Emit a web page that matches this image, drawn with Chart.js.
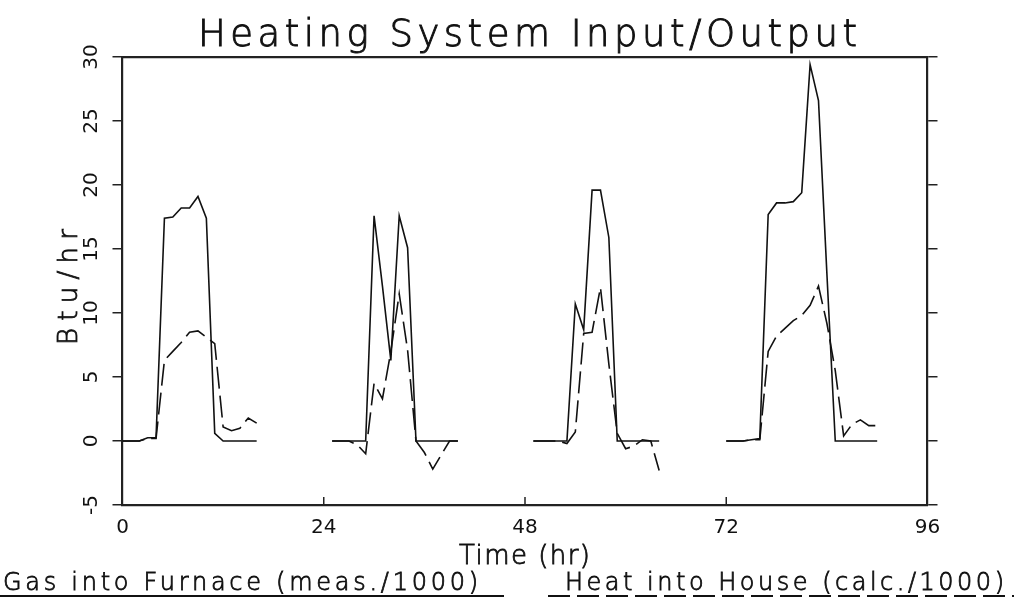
<!DOCTYPE html>
<html>
<head>
<meta charset="utf-8">
<title>Heating System Input/Output</title>
<script src="https://cdn.jsdelivr.net/npm/chart.js@4.4.0/dist/chart.umd.min.js"></script>
<style>
  html, body { margin: 0; padding: 0; background: #fff; }
  #wrap { width: 1019px; height: 603px; position: relative; }
</style>
</head>
<body>
<div id="wrap"><canvas id="heatChart"></canvas></div>
<script>
// hourly samples, four days of logging (null = no record)
const hours = [
  0, 1, 2, 3, 4, 5, 6, 7, 8, 9, 10, 11, 12, 13, 14, 15, 16, 17, 18, 19, 20, 21, 22, 23,
  24, 25, 26, 27, 28, 29, 30, 31, 32, 33, 34, 35, 36, 37, 38, 39, 40, 41, 42, 43, 44, 45, 46, 47,
  48, 49, 50, 51, 52, 53, 54, 55, 56, 57, 58, 59, 60, 61, 62, 63, 64, 65, 66, 67, 68, 69, 70, 71,
  72, 73, 74, 75, 76, 77, 78, 79, 80, 81, 82, 83, 84, 85, 86, 87, 88, 89, 90
];

// Gas into Furnace (meas./1000)
const gasIn = [
  0, 0, 0, 0.25, 0.25, 17.4, 17.5, 18.2, 18.2, 19.1, 17.4, 0.6, 0, 0, 0, 0, 0,
  null, null, null, null, null, null, null, null,
  0, 0, 0, 0, 0, 17.6, 12.1, 6.3, 17.6, 15.1, 0, 0, 0, 0, 0, 0,
  null, null, null, null, null, null, null, null,
  0, 0, 0, 0, 0, 10.7, 8.7, 19.6, 19.6, 15.9, 0, 0, 0, 0, 0, 0,
  null, null, null, null, null, null, null,
  0, 0, 0, 0.1, 0.2, 17.7, 18.6, 18.6, 18.7, 19.4, 29.4, 26.6, 13.1, 0, 0, 0, 0, 0, 0
];

// Heat into House (calc./1000)
const heatOut = [
  0, 0, 0, 0.2, 0.2, 6.3, 7.0, 7.7, 8.5, 8.6, 8.1, 7.6, 1.1, 0.8, 1.0, 1.8, 1.4,
  null, null, null, null, null, null, null, null,
  0, 0, 0, -0.3, -1.0, 4.5, 3.3, 7.0, 11.5, 7.1, 0, -0.9, -2.2, -1.1, 0, 0,
  null, null, null, null, null, null, null, null,
  0, 0, 0, 0, -0.2, 0.7, 8.4, 8.5, 12.0, 6.0, 0.6, -0.6, -0.4, 0.1, 0, -2.3,
  null, null, null, null, null, null, null,
  0, 0, 0, 0.1, 0.1, 7.0, 8.2, 8.8, 9.4, 9.8, 10.6, 12.1, 9.2, 5.5, 0.4, 1.3, 1.65, 1.2, 1.2
];

const xTicks = [0, 24, 48, 72, 96];
const yTicks = [-5, 0, 5, 10, 15, 20, 25, 30];

const chartTitle = 'Heating System Input/Output';
const xTitle = 'Time (hr)';
const yTitle = 'Btu/hr';
const seriesLabels = ['Gas into Furnace (meas./1000)', 'Heat into House (calc./1000)'];

const ink = '#111';
const frameInk = '#222';
const plotFont = '"DejaVu Sans", "Liberation Sans", sans-serif';

// draw text stretched (letter-spaced) to a given width, like the pen plotter lettering
function spacedText(ctx, text, font, left, baseline, width, pen) {
  ctx.font = font;
  ctx.letterSpacing = '0px';
  const w = ctx.measureText(text).width;
  const gap = text.length > 1 ? (width - w) / (text.length - 1) : 0;
  ctx.letterSpacing = gap + 'px';
  ctx.textAlign = 'left';
  ctx.textBaseline = 'alphabetic';
  ctx.fillText(text, left, baseline);
  if (pen) {
    // thicken the thin strokes a little, plotter pens are ~2px
    ctx.lineWidth = pen;
    ctx.strokeStyle = ctx.fillStyle;
    ctx.setLineDash([]);
    ctx.strokeText(text, left, baseline);
  }
  ctx.letterSpacing = '0px';
}

const plotterText = {
  id: 'plotterText',
  afterDraw(chart) {
    const { ctx, chartArea: a, scales } = chart;
    ctx.save();
    ctx.fillStyle = ink;

    // tick marks on the time axis point into the plot
    ctx.strokeStyle = frameInk;
    ctx.lineWidth = 1.5;
    xTicks.slice(1, -1).forEach(v => {
      const px = scales.x.getPixelForValue(v);
      ctx.beginPath();
      ctx.moveTo(px, a.bottom);
      ctx.lineTo(px, a.bottom - 8);
      ctx.stroke();
    });

    // title
    spacedText(ctx, chartTitle, '200 37px ' + plotFont, 198, 46, 659, 0.9);

    // axis titles
    const midX = (a.left + a.right) / 2;
    spacedText(ctx, xTitle, '200 26px ' + plotFont, midX - 66, 564, 131, 0.8);
    ctx.save();
    ctx.translate(77, (a.top + a.bottom) / 2 + 6);
    ctx.rotate(-Math.PI / 2);
    spacedText(ctx, yTitle, '200 26px ' + plotFont, -58, 0, 116, 0.8);
    ctx.restore();

    // legend: label text sitting on its line sample
    const slots = [
      { text: 3, width: 475, from: 0, to: 504 },
      { text: 565, width: 439, from: 548, to: 1014 }
    ];
    chart.data.datasets.forEach((ds, i) => {
      const s = slots[i];
      ctx.fillStyle = ink;
      spacedText(ctx, ds.label, '200 24px ' + plotFont, s.text, 590, s.width, 0.8);
      ctx.beginPath();
      ctx.setLineDash(ds.borderDash || []);
      ctx.strokeStyle = ds.borderColor;
      ctx.lineWidth = 1.8;
      ctx.moveTo(s.from, 596);
      ctx.lineTo(s.to, 596);
      ctx.stroke();
    });
    ctx.setLineDash([]);
    ctx.restore();
  }
};

const ctx = document.getElementById('heatChart').getContext('2d');

new Chart(ctx, {
  type: 'line',
  data: {
    labels: hours,
    datasets: [{
      label: seriesLabels[0],
      data: gasIn,
      borderColor: ink,
      borderWidth: 1.6,
      pointRadius: 0,
      tension: 0,
      spanGaps: false
    }, {
      label: seriesLabels[1],
      data: heatOut,
      borderColor: ink,
      borderWidth: 1.6,
      borderDash: [22, 7],
      pointRadius: 0,
      tension: 0,
      spanGaps: false
    }]
  },
  options: {
    responsive: true,
    maintainAspectRatio: false,
    animation: false,
    events: [],
    layout: { padding: 0 },
    plugins: {
      legend: { display: false },
      title: { display: false },
      tooltip: { enabled: false }
    },
    scales: {
      x: {
        type: 'linear',
        position: 'bottom',
        min: xTicks[0],
        max: xTicks[xTicks.length - 1],
        afterBuildTicks: s => { s.ticks = xTicks.map(v => ({ value: v })); },
        afterFit: s => { s.height = 98; },
        grid: { drawOnChartArea: false, drawTicks: false },
        border: { display: true, color: frameInk, width: 2.2 },
        ticks: { color: ink, padding: 11, maxRotation: 0, font: { family: plotFont, size: 20, weight: 400 } }
      },
      xTop: {
        type: 'linear',
        position: 'top',
        min: xTicks[0],
        max: xTicks[xTicks.length - 1],
        afterFit: s => { s.height = 57; },
        grid: { drawOnChartArea: false, drawTicks: false },
        border: { display: true, color: frameInk, width: 2.2 },
        ticks: { display: false }
      },
      y: {
        position: 'left',
        min: yTicks[0],
        max: yTicks[yTicks.length - 1],
        afterBuildTicks: s => { s.ticks = yTicks.map(v => ({ value: v })); },
        afterFit: s => { s.width = 122.5; },
        grid: { drawOnChartArea: false, drawTicks: true, tickLength: 10, color: frameInk, lineWidth: 1.5 },
        border: { display: true, color: frameInk, width: 2.2 },
        ticks: {
          color: ink, padding: 8, minRotation: 90, maxRotation: 90, crossAlign: 'center',
          font: { family: plotFont, size: 20, weight: 400 }
        }
      },
      yRight: {
        position: 'right',
        min: yTicks[0],
        max: yTicks[yTicks.length - 1],
        afterBuildTicks: s => { s.ticks = yTicks.map(v => ({ value: v })); },
        afterFit: s => { s.width = 91.5; },
        grid: { drawOnChartArea: false, drawTicks: true, tickLength: 10, color: frameInk, lineWidth: 1.5 },
        border: { display: true, color: frameInk, width: 2.2 },
        ticks: { display: false }
      }
    }
  },
  plugins: [plotterText]
});
</script>
</body>
</html>
